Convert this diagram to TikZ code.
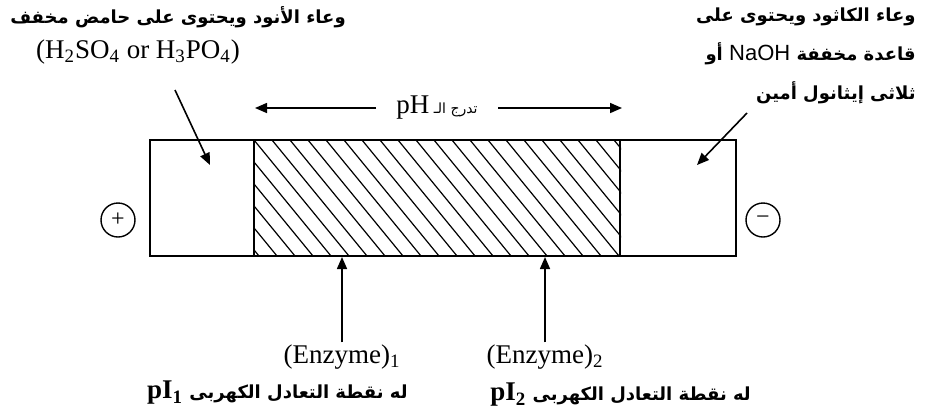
\documentclass[tikz,border=0pt]{standalone}
\usepackage{fontspec}
\setmainfont{Liberation Serif}
\newfontfamily\arabicfont[Script=Arabic]{DejaVu Sans}
\newfontfamily\latinsans{Liberation Sans}
\usetikzlibrary{arrows.meta}
\TeXXeTstate=1

\begin{document}
\begin{tikzpicture}[x=0.5pt,y=-0.5pt,
  ar/.style={font=\arabicfont\bfseries\fontsize{9}{12}\selectfont, inner sep=1pt},
  lat/.style={font=\fontsize{13.5}{16}\selectfont, inner sep=1pt},
  ptr/.style={line width=0.8pt, -{Triangle[length=6pt,width=5pt]}},
  cell/.style={draw, line width=1pt, minimum height=58pt, inner sep=0pt},
  pole/.style={draw, circle, line width=0.7pt, minimum size=17pt, inner sep=0pt, font=\fontsize{12}{12}\selectfont}]
\useasboundingbox (0,0) rectangle (926,414);
% gel strip
\node[cell, minimum width=52pt] (anodebox) at (202,198) {};
\node[cell, minimum width=183pt] (gel) at (437,198) {};
\node[cell, minimum width=58pt] (cathodebox) at (678,198) {};
\begin{scope}
  \clip (gel.south west) rectangle (gel.north east);
  \foreach \k in {-6,...,20}
    \draw[line width=0.6pt] (254+\k*18,140) -- ++(95,116);
\end{scope}
\node[pole] (plus) at (118,220) {+};
\node[pole] (minus) at (763,220) {−};
% labels
\node[ar] (acidtxt) at (178,17) {\beginR وعاء الأنود ويحتوى على حامض مخفف\endR};
\node[lat] (acidfor) at (138,52) {(H\textsubscript{2}SO\textsubscript{4} or H\textsubscript{3}PO\textsubscript{4})};
\node[ar, anchor=east] (base1) at (918,17) {\beginR وعاء الكاثود ويحتوى على\endR};
\node[ar, anchor=east] (base2) at (918,54) {\beginR قاعدة مخففة \beginL{\latinsans\mdseries\fontsize{11}{12}\selectfont NaOH}\endL{}  أو\endR};
\node[ar, anchor=east] (base3) at (918,93) {\beginR ثلاثى إيثانول أمين\endR};
\node[ar, inner xsep=10pt] (phlbl) at (437,108) {\beginR{\mdseries\fontsize{7}{8}\selectfont تدرج الـ }\beginL{\rmfamily\mdseries\fontsize{13.5}{14}\selectfont pH}\endL\endR};
\coordinate (phleft) at (255,108);
\coordinate (phright) at (622,108);
\draw[ptr] (phlbl.west) -- (phleft);
\draw[ptr] (phlbl.east) -- (phright);
% pointers into the vessels
\coordinate (acidtail) at (175,90);
\coordinate (acidtip) at (210,165);
\coordinate (basetail) at (747,113);
\coordinate (basetip) at (697,165);
\draw[ptr] (acidtail) -- (acidtip);
\draw[ptr] (basetail) -- (basetip);
% enzymes
\node[lat] (enz1) at (342,357) {(Enzyme)\textsubscript{1}};
\node[lat] (enz2) at (545,357) {(Enzyme)\textsubscript{2}};
\draw[ptr] (enz1.north) -- (enz1.north |- gel.south);
\draw[ptr] (enz2.north) -- (enz2.north |- gel.south);
\node[ar, anchor=east] (pi1) at (410,393) {\beginR له نقطة التعادل الكهربى \beginL{\rmfamily\bfseries\fontsize{13.5}{14}\selectfont pI\textsubscript{1}}\endL\endR};
\node[ar, anchor=west] (pi2) at (488,395) {\beginR له نقطة التعادل الكهربى \beginL{\rmfamily\bfseries\fontsize{13.5}{14}\selectfont pI\textsubscript{2}}\endL\endR};
\end{tikzpicture}
\end{document}
